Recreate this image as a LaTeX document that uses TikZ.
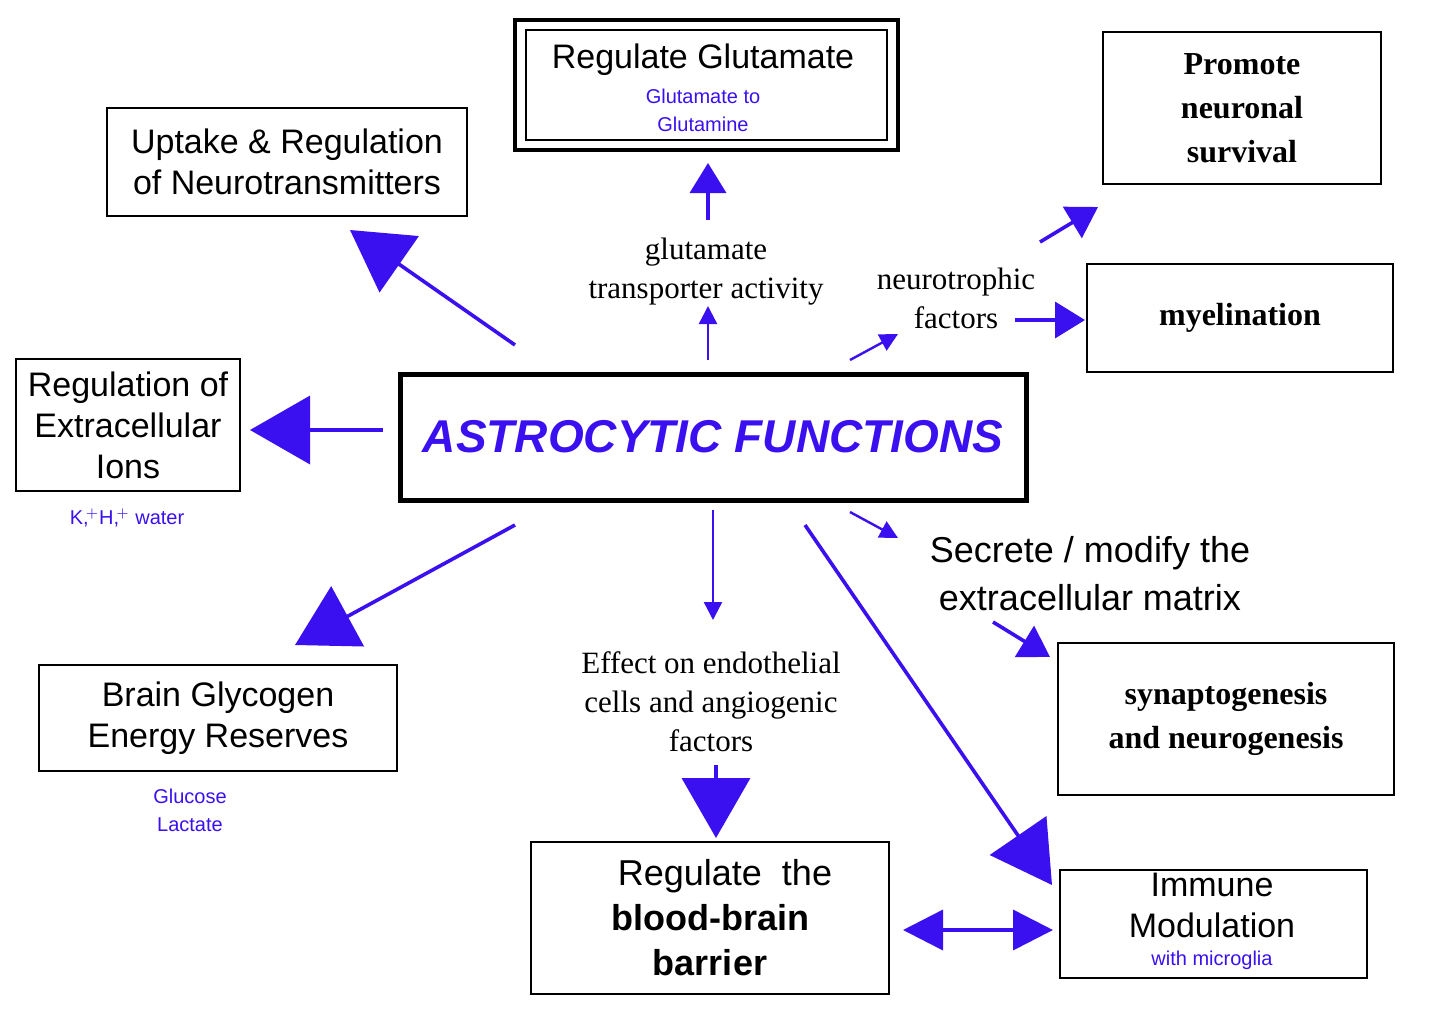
\documentclass[tikz,border=0pt]{standalone}
\usepackage{fontspec}
\setmainfont{Liberation Serif}
\newfontfamily\arialf{Liberation Sans}
\usetikzlibrary{arrows.meta}
\definecolor{ablue}{HTML}{3A10F0}
\begin{document}
\begin{tikzpicture}[x=0.5pt,y=-0.5pt,
  box/.style={draw,line width=1.3pt,inner sep=0pt,align=center},
  sbox/.style={font=\arialf\fontsize{17}{20.5}\selectfont,align=center},
  rbox/.style={font=\bfseries\fontsize{16}{22}\selectfont},
  blu/.style={text=ablue,font=\arialf\fontsize{10}{14}\selectfont,align=center},
  lab/.style={font=\fontsize{15.5}{19.5}\selectfont,align=center},
  ar/.style={draw=ablue,fill=ablue,line width=1.8pt},
  big/.style={ar,-{Triangle[width=34pt,length=30pt]}},
  med/.style={ar,-{Triangle[width=18pt,length=15pt]}},
  sml/.style={ar,line width=1.2pt,-{Triangle[width=9pt,length=9pt]}}]
\useasboundingbox (0,0) rectangle (1440,1013);
% boxes
\draw[line width=2.2pt] (515,20) rectangle (898,150);
\draw[line width=1.2pt] (526,30) rectangle (887,140);
\node[sbox] (rg) at (703,60) {Regulate Glutamate};
\node[blu] (rgs) at (703,110) {Glutamate to\\Glutamine};
\node[box,sbox,minimum width=180pt,minimum height=54pt] (up) at (287,162) {Uptake \& Regulation\\of Neurotransmitters};
\node[box,rbox,minimum width=139pt,minimum height=76pt] (pn) at (1242,108) {Promote\\neuronal\\survival};
\node[box,rbox,minimum width=153pt,minimum height=54pt] (my) at (1240,318) {myelination};
\node[box,sbox,minimum width=112pt,minimum height=66pt] (ions) at (128,425) {Regulation of\\Extracellular\\Ions};
\node[blu] (k) at (127,518) {K,$^{\!+}$H,$^{\!+}$ water};
\node[box,line width=2.5pt,minimum width=313pt,minimum height=63pt,text=ablue,font=\arialf\bfseries\itshape\fontsize{23}{26}\selectfont] (af) at (713,437) {ASTROCYTIC FUNCTIONS};
\node[box,sbox,minimum width=179pt,minimum height=53pt] (bg) at (218,718) {Brain Glycogen\\Energy Reserves};
\node[blu] (gl) at (190,810) {Glucose\\Lactate};
\node[box,minimum width=179pt,minimum height=76pt,font=\arialf\fontsize{18}{22.5}\selectfont] (bbb) at (710,918) {\ \ \ Regulate\ \ the\\\textbf{blood-brain}\\\textbf{barrier}};
\node[box,rbox,minimum width=168pt,minimum height=76pt] (syn) at (1226,719) {synaptogenesis\\and neurogenesis};
\draw[line width=1.3pt] (1060,870) rectangle (1367,978);
\node[sbox] (im) at (1212,905) {Immune\\Modulation};
\node[blu] (ims) at (1212,960) {with microglia};
% labels
\node[lab] (gt) at (706,272) {glutamate\\transporter activity};
\node[lab] (nf) at (956,298) {neurotrophic\\factors};
\node[font=\arialf\fontsize{18}{24}\selectfont,align=center] (se) at (1090,574) {Secrete / modify the\\extracellular matrix};
\node[lab] (ef) at (711,702) {Effect on endothelial\\cells and angiogenic\\factors};
% arrow coordinates
\coordinate (a1) at (515,345); \coordinate (b1) at (350,230);
\coordinate (a2) at (383,430); \coordinate (b2) at (250,430);
\coordinate (a3) at (515,525); \coordinate (b3) at (295,645);
\coordinate (a4) at (708,220); \coordinate (b4) at (708,163);
\coordinate (a5) at (708,360); \coordinate (b5) at (708,306);
\coordinate (a6) at (850,360); \coordinate (b6) at (898,334);
\coordinate (a7) at (1040,242); \coordinate (b7) at (1098,207);
\coordinate (a8) at (1015,320); \coordinate (b8) at (1085,320);
\coordinate (a9) at (850,512); \coordinate (b9) at (898,538);
\coordinate (a10) at (993,622); \coordinate (b10) at (1050,657);
\coordinate (a11) at (713,510); \coordinate (b11) at (713,620);
\coordinate (a12) at (716,765); \coordinate (b12) at (716,838);
\coordinate (a13) at (805,525); \coordinate (b13) at (1052,885);
\coordinate (a14) at (903,930); \coordinate (b14) at (1053,930);
\draw[big] (a1) -- (b1);
\draw[big] (a2) -- (b2);
\draw[big] (a3) -- (b3);
\draw[med] (a4) -- (b4);
\draw[sml] (a5) -- (b5);
\draw[sml] (a6) -- (b6);
\draw[med] (a7) -- (b7);
\draw[med] (a8) -- (b8);
\draw[sml] (a9) -- (b9);
\draw[med] (a10) -- (b10);
\draw[sml] (a11) -- (b11);
\draw[big] (a12) -- (b12);
\draw[big] (a13) -- (b13);
\draw[ar,{Triangle[width=20pt,length=20pt]}-{Triangle[width=20pt,length=20pt]}] (a14) -- (b14);
\end{tikzpicture}
\end{document}
